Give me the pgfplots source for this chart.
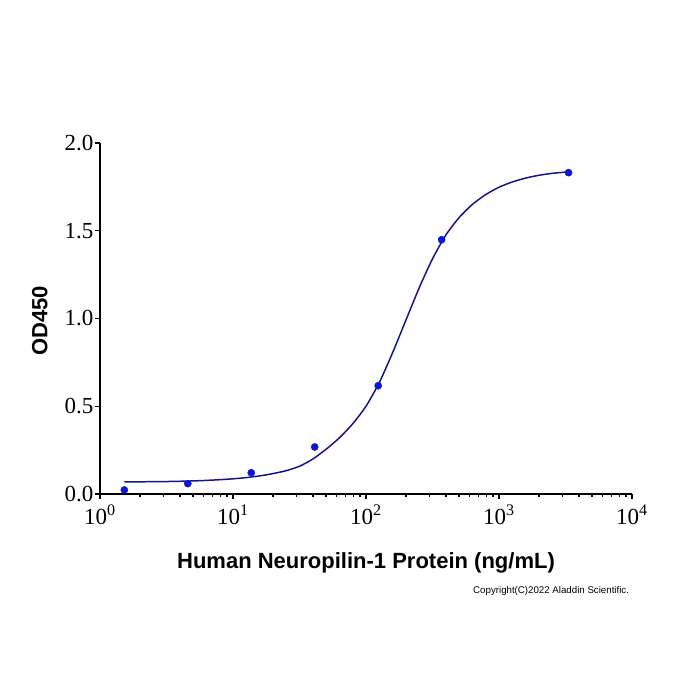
\documentclass[border=0pt]{standalone}
\usepackage{fontspec}
\setmainfont{Liberation Serif}
\newfontfamily\arialfont{Liberation Sans}
\usepackage{pgfplots}
\usepackage{pgfplotstable}
\pgfplotsset{compat=1.18}

\definecolor{fitcurve}{RGB}{22,22,140}
\definecolor{datapts}{RGB}{12,24,210}

% measured OD450 values of the dilution series
\pgfplotstableread{
conc   od
1.524  0.023
4.572  0.059
13.72  0.121
41.15  0.268
123.5  0.617
370.4  1.449
3333   1.831
}\measured

% fitted dose-response curve
\pgfplotstableread{
conc   od
1.524  0.0690
1.995  0.0695
2.512  0.0702
3.162  0.0710
3.981  0.0725
5.012  0.0745
6.310  0.0775
7.943  0.0815
10.00  0.0865
12.59  0.0935
15.85  0.1030
19.95  0.1160
25.12  0.1330
31.62  0.1580
39.81  0.1990
50.12  0.2550
63.10  0.3200
79.43  0.4000
100.0  0.5000
125.9  0.6350
158.5  0.8050
199.5  0.9900
251.2  1.1750
316.2  1.3400
398.1  1.4750
501.2  1.5750
631.0  1.6500
794.3  1.7060
1000   1.7480
1259   1.7780
1585   1.8000
1995   1.8160
2512   1.8270
3162   1.8340
3333   1.8350
}\fitted

\begin{document}
\begin{tikzpicture}
\path[use as bounding box] (0,0) rectangle (700bp,700bp);
\begin{axis}[
  at={(100bp,206bp)}, anchor=south west,
  scale only axis, width=532bp, height=351bp,
  xmode=log, log basis x=10,
  xmin=1, xmax=10000, ymin=0, ymax=2,
  axis x line*=bottom, axis y line*=left,
  axis line style={line width=1.4bp, black},
  every tick/.style={black, line width=1.2bp},
  tick align=outside,
  major tick length=5bp, minor tick length=3bp,
  xtick={1,10,100,1000,10000},
  minor xtick={2,3,4,5,6,7,8,9,20,30,40,50,60,70,80,90,200,300,400,500,600,700,800,900,2000,3000,4000,5000,6000,7000,8000,9000},
  xticklabels={10\textsuperscript{0},10\textsuperscript{1},10\textsuperscript{2},10\textsuperscript{3},10\textsuperscript{4}},
  ytick={0,0.5,1,1.5,2},
  /pgf/number format/fixed,
  /pgf/number format/fixed zerofill,
  /pgf/number format/precision=1,
  /pgf/number format/assume math mode=true,
  ticklabel style={font=\fontsize{23bp}{26bp}\selectfont},
  xticklabel style={yshift=-2bp},
  yticklabel style={xshift=2bp},
  xlabel={Human Neuropilin-1 Protein (ng/mL)},
  ylabel={OD450},
  label style={font=\arialfont\bfseries\fontsize{22bp}{26bp}\selectfont},
  xlabel style={at={(axis description cs:0.5,-0.197)}, anchor=center},
  ylabel style={at={(axis description cs:-0.113,0.493)}, anchor=center},
  clip=false,
]
\addplot[fitcurve, line width=1.5bp, smooth, tension=0.4, no marks] table[x=conc, y=od] {\fitted};
\addplot[only marks, mark=*, mark size=3.6bp, mark options={fill=datapts, draw=datapts}] table[x=conc, y=od] {\measured};
\node[font=\arialfont\fontsize{9.7bp}{12bp}\selectfont, anchor=center] at (axis description cs:0.848,-0.276) {Copyright(C)2022 Aladdin Scientific.};
\end{axis}
\end{tikzpicture}
\end{document}
